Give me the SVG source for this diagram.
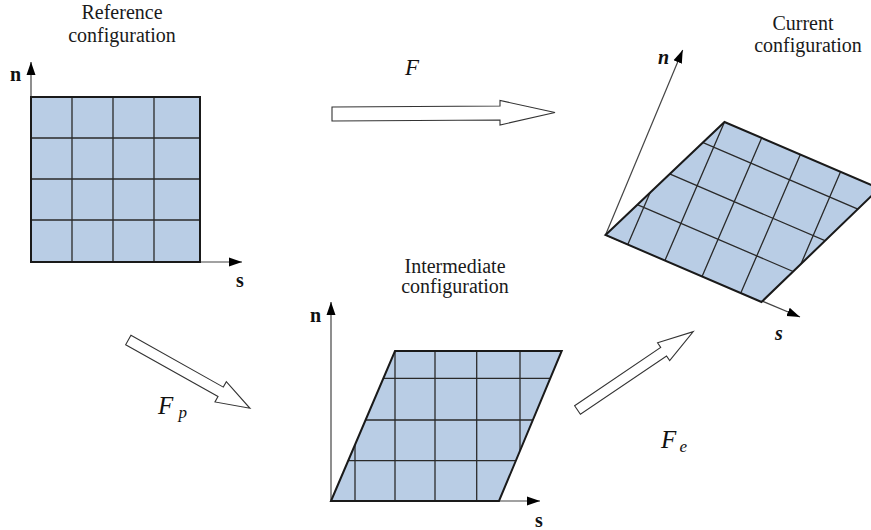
<svg xmlns="http://www.w3.org/2000/svg" width="871" height="530" viewBox="0 0 871 530">
<style>
.title{font-family:"Liberation Serif",serif;font-size:20px;fill:#1a1a1a;text-anchor:middle}
.ax{font-family:"Liberation Serif",serif;font-size:20px;font-weight:bold;fill:#111}
.axi{font-style:italic}
.lbl{font-family:"Liberation Serif",serif;font-style:italic;font-size:23px;fill:#111}
.lbl2{font-family:"Liberation Serif",serif;font-style:italic;font-size:25px;fill:#111}
.sub{font-family:"Liberation Serif",serif;font-style:italic;font-size:17px;fill:#111}
.fill{fill:#b9cde5}
.out{fill:none;stroke:#1a1a1a;stroke-width:2}
.grid{stroke:#2a2a2a;stroke-width:1.3;fill:none}
.axis{stroke:#444;stroke-width:1.2;fill:none;marker-end:url(#ah)}
.block{fill:#fff;stroke:#333;stroke-width:1.1}
</style>
<defs>
<marker id="ah" markerUnits="userSpaceOnUse" markerWidth="14" markerHeight="10" refX="13" refY="5" orient="auto"><path d="M0,0.5 L13,5 L0,9.5 z" fill="#000"/></marker>
<clipPath id="pc"><path d="M0,0 L64,-150 L230.7,-150 L168,0 Z"/></clipPath>
<g id="para">
<path class="fill" d="M0,0 L64,-150 L230.7,-150 L168,0 Z"/>
<g clip-path="url(#pc)">
<path class="grid" d="M24,0V-150 M64,0V-150 M104,0V-150 M145.7,0V-150 M189,0V-150 M0,-40.3H240 M0,-81H240 M0,-122.7H240"/>
</g>
<path class="out" d="M0,0 L64,-150 L230.7,-150 L168,0 Z"/>
</g>
</defs>

<g id="reference">
<line class="axis" x1="31" y1="262" x2="31" y2="62"/>
<line class="axis" x1="31" y1="262" x2="242" y2="262"/>
<rect class="fill" x="31" y="97" width="169" height="165"/>
<path class="grid" d="M72,97V262 M113,97V262 M154,97V262 M31,138H200 M31,179H200 M31,220H200"/>
<rect class="out" x="31" y="97" width="169" height="165"/>
<text class="ax" x="10" y="81">n</text>
<text class="ax" x="236" y="287">s</text>
<text class="title"><tspan x="122" y="19">Reference</tspan><tspan x="122" y="42">configuration</tspan></text>
</g>

<g id="intermediate">
<line class="axis" x1="331" y1="501" x2="331" y2="302"/>
<line class="axis" x1="331" y1="501" x2="540" y2="501"/>
<use href="#para" transform="translate(331,501)"/>
<text class="ax" x="310" y="321.5">n</text>
<text class="ax" x="535" y="526.5">s</text>
<text class="title"><tspan x="455" y="272.5">Intermediate</tspan><tspan x="455" y="293">configuration</tspan></text>
</g>

<g id="current">
<line class="axis" x1="605.5" y1="235" x2="682.7" y2="50"/>
<line class="axis" x1="605.5" y1="235" x2="800" y2="317"/>
<use href="#para" transform="matrix(0.9286,0.3988,-0.3971,0.9235,605.5,235)"/>
<text class="ax axi" x="658" y="64">n</text>
<text class="ax axi" x="775" y="340">s</text>
<text class="title"><tspan x="803" y="30">Current</tspan><tspan x="808" y="51.5">configuration</tspan></text>
</g>

<g id="connectors">
<polygon class="block" points="332,107 500,106 500,100.5 555,112.5 500,125 500,120 332,121"/>
<polygon class="block" transform="translate(128.3,340) rotate(29.3)" points="0,-5.4 105.9,-5.4 105.9,-11.6 139.5,0 105.9,11.6 105.9,5.4 0,5.4"/>
<polygon class="block" transform="translate(577.5,410) rotate(-34.1)" points="0,-5.2 104,-5.2 104,-10.8 139.8,0 104,10.8 104,5.2 0,5.2"/>
<text class="lbl" x="405" y="75">F</text>
<text class="lbl2" x="158" y="414">F</text>
<text class="sub" x="178.5" y="418">p</text>
<text class="lbl2" x="661" y="448">F</text>
<text class="sub" x="679.5" y="452">e</text>
</g>
</svg>
